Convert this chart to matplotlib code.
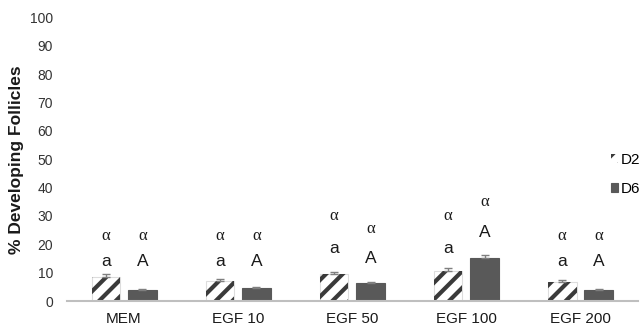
import matplotlib
matplotlib.use("Agg")
import matplotlib.pyplot as plt
import numpy as np

categories = ["MEM", "EGF 10", "EGF 50", "EGF 100", "EGF 200"]
d2_values = [8.6, 7.0, 9.5, 10.6, 6.8]
d2_errors = [0.8, 0.7, 0.9, 1.0, 0.5]
d6_values = [3.9, 4.6, 6.3, 15.3, 4.0]
d6_errors = [0.5, 0.4, 0.5, 1.1, 0.4]
d2_letters = ["a", "a", "a", "a", "a"]
d6_letters = ["A", "A", "A", "A", "A"]
d2_greek = ["α", "α", "α", "α", "α"]
d6_greek = ["α", "α", "α", "α", "α"]
d2_letter_y = [14, 14, 18.5, 18.5, 14]
d2_greek_y = [23, 23, 30, 30, 23]
d6_letter_y = [14, 14, 15, 24, 14]
d6_greek_y = [23, 23, 25.5, 35, 23]
yticks = [0, 10, 20, 30, 40, 50, 60, 70, 80, 90, 100]

plt.rcParams['font.family'] = ['Liberation Sans', 'DejaVu Sans']
plt.rcParams['hatch.linewidth'] = 3.0

fig = plt.figure(figsize=(6.44, 3.32), dpi=100)
ax = fig.add_axes([0.104, 0.093, 0.886, 0.855])

x = np.arange(len(categories))
w = 0.25
off = 0.16
b1 = ax.bar(x - off, d2_values, w, color="white", edgecolor="#dddddd",
            linewidth=0.8, zorder=2)
b1_h = ax.bar(x - off, d2_values, w, color="none", edgecolor="#3a3a3a", hatch="//",
              linewidth=0, label="D2", zorder=2)
ax.errorbar(x - off, d2_values, yerr=[np.zeros(5), d2_errors], fmt="none",
            ecolor="#7f7f7f", elinewidth=1, capsize=3, zorder=3)
b2 = ax.bar(x + off, d6_values, w, color="#595959", edgecolor="#595959",
            linewidth=0.8, label="D6", zorder=2)
ax.errorbar(x + off, d6_values, yerr=[np.zeros(5), d6_errors], fmt="none",
            ecolor="#7f7f7f", elinewidth=1, capsize=3, zorder=3)

for i in range(len(categories)):
    ax.text(x[i] - off, d2_letter_y[i], d2_letters[i], ha="center", va="center",
            fontsize=12.5, color="#1a1a1a")
    ax.text(x[i] - off, d2_greek_y[i], d2_greek[i], ha="center", va="center", fontsize=12,
            family=["Liberation Serif", "DejaVu Serif"], color="#1a1a1a")
    ax.text(x[i] + off, d6_letter_y[i], d6_letters[i], ha="center", va="center",
            fontsize=12.5, color="#1a1a1a")
    ax.text(x[i] + off, d6_greek_y[i], d6_greek[i], ha="center", va="center", fontsize=12,
            family=["Liberation Serif", "DejaVu Serif"], color="#1a1a1a")

ax.set_xlim(-0.5, len(categories) - 0.5)
ax.set_ylim(0, 100)
ax.set_yticks(yticks)
ax.set_xticks(x)
ax.set_xticklabels(categories, fontsize=11, color="#1a1a1a")
ax.tick_params(axis="y", labelsize=10, length=0, pad=10, colors="#333333")
ax.tick_params(axis="x", length=0, pad=8)
for s in ["top", "right", "left"]:
    ax.spines[s].set_visible(False)
ax.spines["bottom"].set_color("#bfbfbf")
ax.spines["bottom"].set_linewidth(1.5)
ax.set_ylabel("% Developing Follicles", fontsize=12.5, fontweight="bold", labelpad=4,
              color="#1a1a1a")

leg = fig.legend(handles=[b1_h, b2], labels=["D2", "D6"], loc="upper left",
                 bbox_to_anchor=(0.948, 0.54), frameon=False, fontsize=11,
                 handlelength=0.5, handleheight=0.5, handletextpad=0.15, labelspacing=1.0,
                 borderaxespad=0, borderpad=0)

fig.savefig("out.png", dpi=100)
